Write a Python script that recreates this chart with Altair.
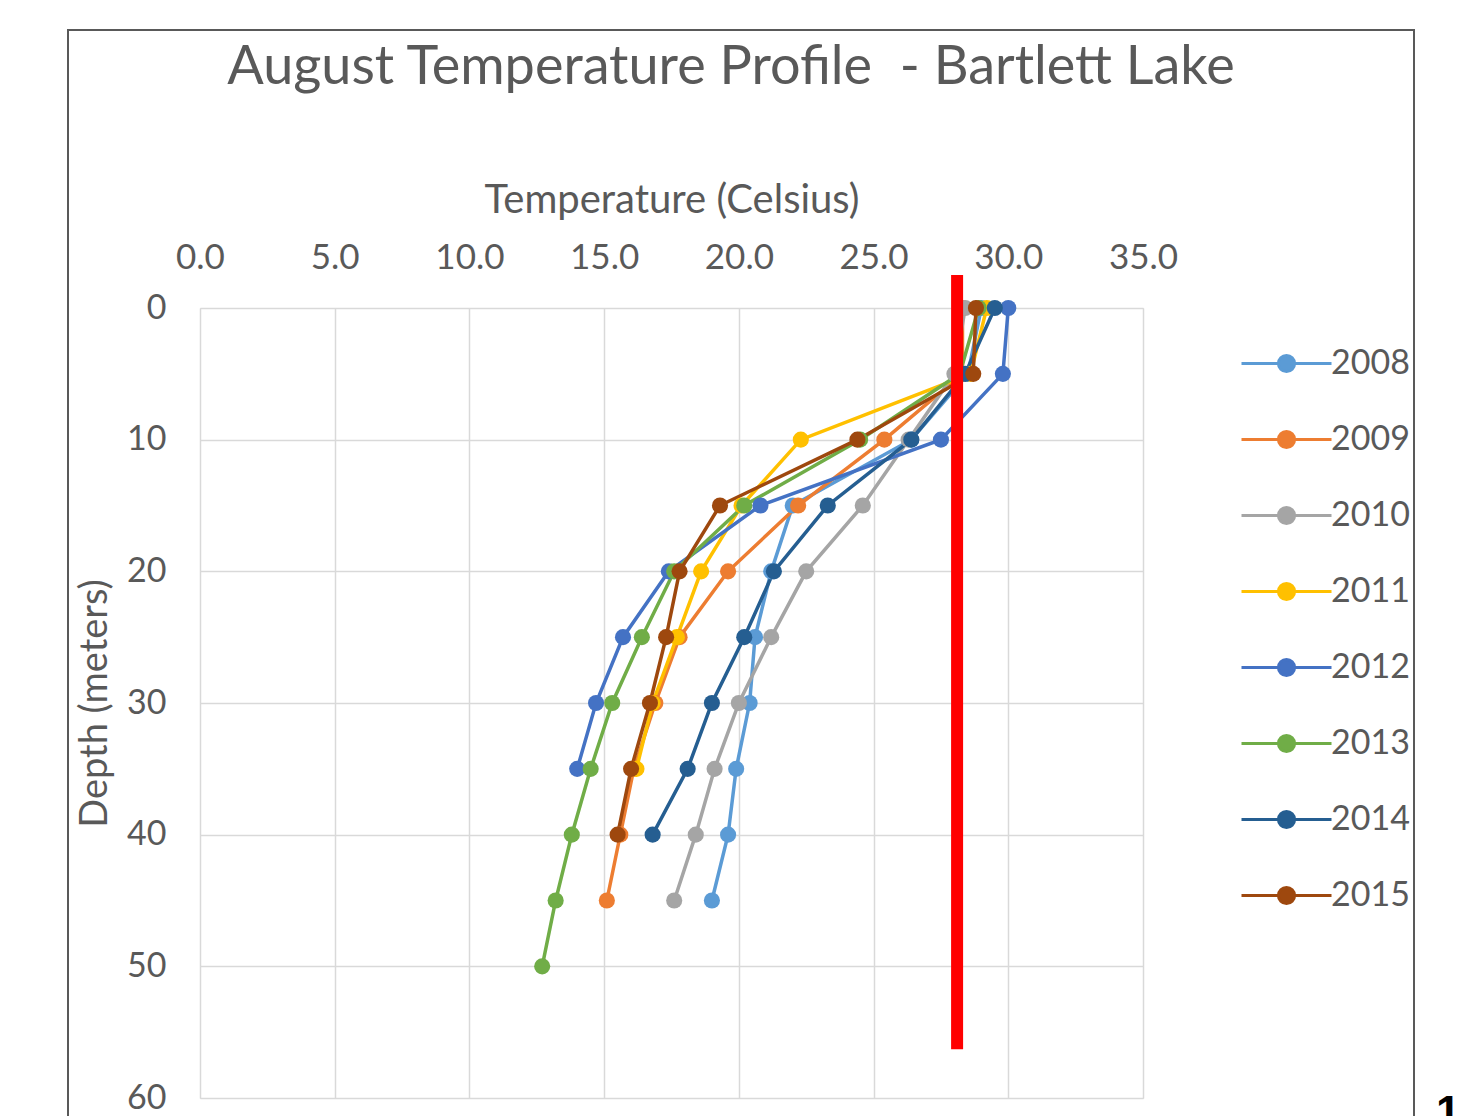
import altair as alt
import pandas as pd

depths = [0, 5, 10, 15, 20, 25, 30, 35, 40, 45, 50]
years = ["2008", "2009", "2010", "2011", "2012", "2013", "2014", "2015"]
t2008 = [29.0, 28.5, 26.4, 22.0, 21.2, 20.6, 20.4, 19.9, 19.6, 19.0]
t2009 = [28.3, 28.3, 25.4, 22.2, 19.6, 17.8, 16.9, 16.1, 15.6, 15.1]
t2010 = [28.4, 28.0, 26.3, 24.6, 22.5, 21.2, 20.0, 19.1, 18.4, 17.6]
t2011 = [29.2, 28.6, 22.3, 20.1, 18.6, 17.7, 16.8, 16.2]
t2012 = [30.0, 29.8, 27.5, 20.8, 17.4, 15.7, 14.7, 14.0]
t2013 = [28.9, 28.2, 24.5, 20.2, 17.6, 16.4, 15.3, 14.5, 13.8, 13.2, 12.7]
t2014 = [29.5, 28.4, 26.4, 23.3, 21.3, 20.2, 19.0, 18.1, 16.8]
t2015 = [28.8, 28.7, 24.4, 19.3, 17.8, 17.3, 16.7, 16.0, 15.5]
colors = ["#5B9BD5", "#ED7D31", "#A5A5A5", "#FFC000", "#4472C4", "#70AD47", "#255E91", "#9E480E"]
ref_temp = [28.1]
ref_top = [-2.5]
ref_bottom = [56.3]
title_text = "August Temperature Profile \u00a0- Bartlett Lake"
page_number = "16"

series = [t2008, t2009, t2010, t2011, t2012, t2013, t2014, t2015]
rows = []
for yr, vals in zip(years, series):
    for d, t in zip(depths, vals):
        rows.append({"Year": yr, "Depth": d, "Temp": t})
df = pd.DataFrame(rows)

FONT = "Lato"
GRAY = "#595959"

xscale = alt.Scale(domain=[0, 35], nice=False)
yscale = alt.Scale(domain=[0, 60], reverse=True, nice=False)

xaxis = alt.Axis(orient="top", values=[0, 5, 10, 15, 20, 25, 30, 35], format=".1f",
                 title="Temperature (Celsius)", titleFontSize=40, titleFont=FONT,
                 titleColor=GRAY, titleFontWeight="normal", titlePadding=20,
                 labelFontSize=35, labelFont=FONT, labelColor=GRAY, labelPadding=33,
                 labelFlush=False,
                 ticks=False, tickSize=0, domain=False, grid=True,
                 gridColor="#d9d9d9", gridWidth=1.5)
yaxis = alt.Axis(values=[0, 10, 20, 30, 40, 50, 60], format="d",
                 title="Depth (meters)", titleFontSize=38, titleFont=FONT,
                 titleColor=GRAY, titleFontWeight="normal", titlePadding=12,
                 labelFontSize=34, labelFont=FONT, labelColor=GRAY, labelPadding=34,
                 labelFlush=False,
                 ticks=False, tickSize=0, domain=False, grid=True,
                 gridColor="#d9d9d9", gridWidth=1.5)

legend_path = "M-1.5,0H1.5M-0.27,0A0.27,0.27,0,1,1,0.27,0A0.27,0.27,0,1,1,-0.27,0Z"
color = alt.Color("Year:N", scale=alt.Scale(domain=years, range=colors),
                  legend=alt.Legend(title=None, orient="none", legendX=1055, legendY=24,
                                    symbolType=legend_path, symbolSize=3600,
                                    symbolStrokeWidth=3, labelFontSize=34,
                                    labelFont=FONT, labelColor=GRAY, labelOffset=13))

base = alt.Chart(df).encode(
    x=alt.X("Temp:Q", scale=xscale, axis=xaxis),
    y=alt.Y("Depth:Q", scale=yscale, axis=yaxis),
    color=color,
    detail="Year:N",
    order=alt.Order("Depth:Q"),
)
lines = base.mark_line(strokeWidth=3.5, clip=False)
points = base.mark_point(filled=True, size=260, opacity=1, clip=False)

ref = alt.Chart(pd.DataFrame({"T": ref_temp, "top": ref_top, "bot": ref_bottom})).mark_rule(
    color="#FF0000", strokeWidth=12, clip=False
).encode(x=alt.X("T:Q", scale=xscale), y=alt.Y("top:Q", scale=yscale), y2="bot:Q")

border = alt.Chart(pd.DataFrame({"a": [0]})).mark_rect(
    fill=None, stroke="#595959", strokeWidth=2, clip=False
).encode(x=alt.value(-132), x2=alt.value(1214), y=alt.value(-278), y2=alt.value(900))

title = alt.Chart(pd.DataFrame({"t": [title_text]})).mark_text(
    font=FONT, fontSize=54, color=GRAY, align="center", baseline="middle", clip=False
).encode(text="t:N", x=alt.value(531), y=alt.value(-240))

page = alt.Chart(pd.DataFrame({"t": [page_number]})).mark_text(
    font="Liberation Sans", fontSize=44, fontWeight="bold", color="black", align="left",
    baseline="top", clip=False
).encode(text="t:N", x=alt.value(1236), y=alt.value(784))

chart = alt.layer(border, lines, points, ref, title, page).properties(
    width=943, height=790,
    autosize=alt.AutoSizeParams(type="none"),
    padding={"left": 192, "top": 300, "right": 318, "bottom": 120},
).configure_view(stroke=None).configure(background="white").configure_legend(rowPadding=27)

chart.save("out.html", embed_options={"renderer": "svg", "actions": False})
